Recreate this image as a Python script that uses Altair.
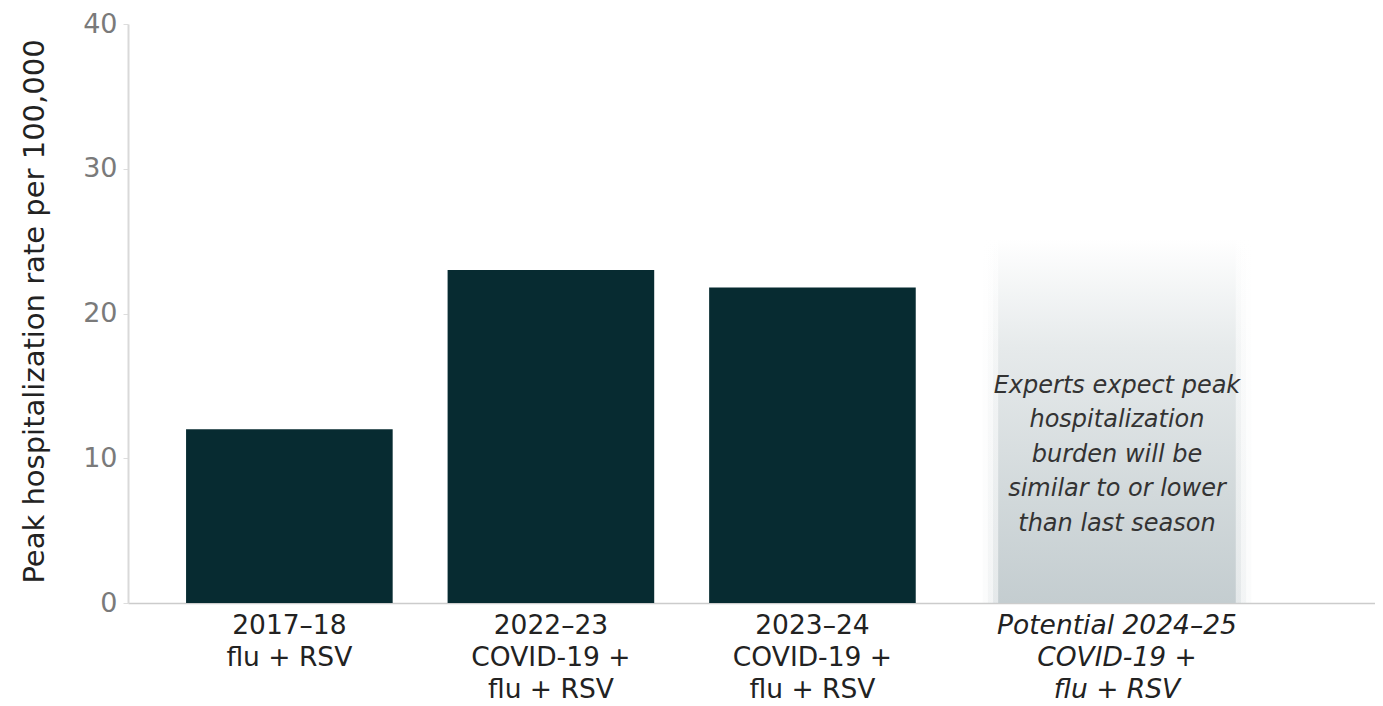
import altair as alt
import pandas as pd

# ---- data ----
categories = [
    "2017–18|flu + RSV",
    "2022–23|COVID-19 +|flu + RSV",
    "2023–24|COVID-19 +|flu + RSV",
    "Potential 2024–25|COVID-19 +|flu + RSV",
]
peak_rates = [12.0, 23.0, 21.8]          # observed seasons
projected_top = [25.2]                   # extent of the shaded "potential" column
annotation_lines = [
    "Experts expect peak",
    "hospitalization",
    "burden will be",
    "similar to or lower",
    "than last season",
]
annotation_y = [15.0]
y_ticks = [0, 10, 20, 30, 40]

FONT = "DejaVu Sans"
BAR = "#072b31"
SHIFT = 43   # the projected column sits a little further right than a regular step

bars_df = pd.DataFrame({"cat": categories[:3], "rate": peak_rates})
proj_df = pd.DataFrame({"cat": [categories[3]], "top": projected_top, "base": [0]})
note_df = pd.DataFrame({"cat": [categories[3]], "y": annotation_y,
                        "text": ["\n".join(annotation_lines)]})

is_proj = "indexof(datum.value, 'Potential') == 0"

x_enc = alt.X(
    "cat:N",
    sort=categories,
    scale=alt.Scale(domain=categories, paddingInner=0.21, paddingOuter=0.489, align=0.227),
    axis=alt.Axis(
        title=None,
        labelExpr="split(datum.value, '|')",
        labelAngle=0,
        labelAlign="center",
        labelBaseline="top",
        labelFlush=False,
        labelOverlap=False,
        labelLimit=0,
        labelFont=FONT,
        labelFontSize=26.5,
        labelColor="#222222",
        labelLineHeight=32,
        labelPadding=9,
        labelFontStyle={"condition": {"test": is_proj, "value": "italic"}, "value": "normal"},
        labelOffset={"condition": {"test": is_proj, "value": SHIFT}, "value": 0},
        ticks=False,
        domainColor="#cccccc",
        domainWidth=1.5,
    ),
)

y_scale = alt.Scale(domain=[0, 40], nice=False)
y_axis = alt.Axis(
    values=y_ticks,
    grid=False,
    title="Peak hospitalization rate per 100,000",
    titleFont=FONT,
    titleFontSize=29,
    titleFontWeight="normal",
    titleColor="#222222",
    titleAngle=270,
    titleAlign="center",
    titleBaseline="middle",
    titleX=-94,
    titleY=287,
    labelFont=FONT,
    labelFontSize=27,
    labelColor="#7a7a7a",
    labelPadding=6,
    tickColor="#dddddd",
    tickSize=5,
    domainColor="#d9d9d9",
    domainWidth=2,
)

bars = alt.Chart(bars_df).mark_bar(color=BAR).encode(
    x=x_enc,
    y=alt.Y("rate:Q", scale=y_scale, axis=y_axis),
)

grad = alt.Gradient(
    gradient="linear",
    stops=[
        alt.GradientStop(color="#ffffff", offset=0),
        alt.GradientStop(color="#e6eaeb", offset=0.3),
        alt.GradientStop(color="#d2d9db", offset=0.7),
        alt.GradientStop(color="#c4cdd0", offset=1),
    ],
    x1=0, x2=0, y1=0, y2=1,
)

halo_layers = []
for rel, op in [(1.3, 0.07), (1.25, 0.15), (1.2, 0.3), (1.15, 1.0)]:
    halo_layers.append(
        alt.Chart(proj_df).mark_bar(
            color=grad, opacity=op, xOffset=SHIFT, width=alt.RelativeBandSize(rel)
        ).encode(
            x=alt.X("cat:N", sort=categories),
            y=alt.Y("top:Q", scale=y_scale),
            y2="base:Q",
        )
    )

note = alt.Chart(note_df).mark_text(
    font=FONT, fontSize=24, fontStyle="italic", color="#333333",
    lineBreak="\n", lineHeight=34.5, align="center", baseline="middle", xOffset=SHIFT,
).encode(
    x=alt.X("cat:N", sort=categories),
    y=alt.Y("y:Q", scale=y_scale),
    text="text:N",
)

chart = alt.layer(*halo_layers, bars, note).properties(
    width=1247,
    height=579,
    autosize=alt.AutoSizeParams(type="none"),
    padding={"left": 120, "top": 16, "right": 0, "bottom": 104},
).configure_view(stroke=None)

chart.save("out.html", embed_options={"renderer": "svg", "actions": False})
